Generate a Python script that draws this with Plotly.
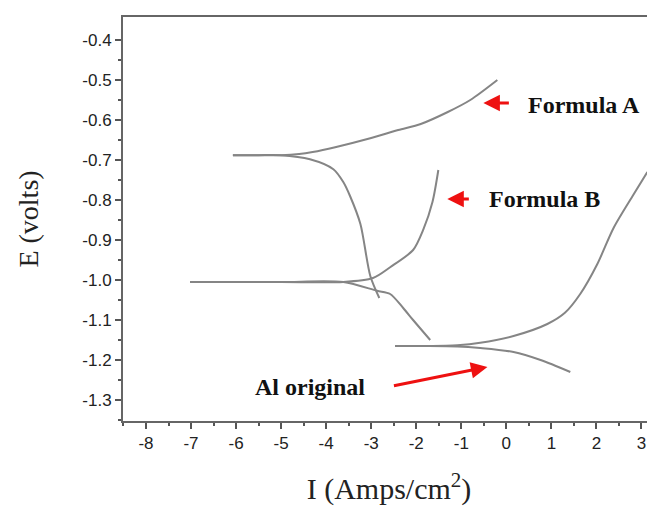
import plotly.graph_objects as go

# Formula A (anodic and cathodic branches)
a_anodic_I = [-6.07, -5.5, -5.0, -4.6, -4.3, -3.8, -3.0, -2.4, -1.9, -1.3, -0.8, -0.2]
a_anodic_E = [-0.688, -0.688, -0.688, -0.685, -0.680, -0.668, -0.645, -0.625, -0.610, -0.580, -0.550, -0.500]
a_cath_I = [-6.07, -5.5, -5.02, -4.36, -3.84, -3.62, -3.47, -3.24, -3.02, -2.82]
a_cath_E = [-0.688, -0.688, -0.688, -0.698, -0.723, -0.755, -0.790, -0.860, -0.990, -1.045]

# Formula B
b_anodic_I = [-7.02, -5.0, -3.62, -2.96, -2.58, -2.07, -1.84, -1.64, -1.51]
b_anodic_E = [-1.005, -1.005, -1.005, -0.995, -0.968, -0.925, -0.873, -0.805, -0.725]
b_cath_I = [-7.02, -5.0, -3.62, -2.87, -2.58, -2.29, -2.07, -1.69]
b_cath_E = [-1.005, -1.005, -1.005, -1.027, -1.035, -1.070, -1.100, -1.150]

# Al original
al_anodic_I = [-2.47, -1.8, -1.09, -0.58, 0.16, 0.91, 1.30, 1.64, 2.02, 2.38, 2.82, 3.13]
al_anodic_E = [-1.165, -1.165, -1.163, -1.157, -1.140, -1.110, -1.082, -1.035, -0.960, -0.870, -0.787, -0.730]
al_cath_I = [-2.47, -1.8, -1.09, -0.58, 0.16, 0.76, 1.42]
al_cath_E = [-1.165, -1.165, -1.166, -1.170, -1.180, -1.200, -1.230]

x_tick_vals = [-8, -7, -6, -5, -4, -3, -2, -1, 0, 1, 2, 3]
x_tick_labels = ["-8", "-7", "-6", "-5", "-4", "-3", "-2", "-1", "0", "1", "2", "3"]
y_tick_vals = [-0.4, -0.5, -0.6, -0.7, -0.8, -0.9, -1.0, -1.1, -1.2, -1.3]
y_tick_labels = ["-0.4", "-0.5", "-0.6", "-0.7", "-0.8", "-0.9", "-1.0", "-1.1", "-1.2", "-1.3"]

line_color = "#858585"
fig = go.Figure()
for xs, ys in [(a_anodic_I, a_anodic_E), (a_cath_I, a_cath_E),
               (b_anodic_I, b_anodic_E), (b_cath_I, b_cath_E),
               (al_anodic_I, al_anodic_E), (al_cath_I, al_cath_E)]:
    fig.add_trace(go.Scatter(x=xs, y=ys, mode="lines",
                             line=dict(color=line_color, width=2, shape="spline", smoothing=0.8),
                             showlegend=False, hoverinfo="skip"))

label_font = dict(family="Liberation Serif", size=24, color="#111111")
arrow = dict(showarrow=True, arrowhead=2, arrowsize=1.1, arrowwidth=3, arrowcolor="#ee1111", text="")
annotations = [
    dict(x=-0.51, y=-0.5575, xref="x", yref="y", ax=27, ay=0, **arrow),
    dict(x=1.73, y=-0.5625, xref="x", yref="y", text="<b>Formula A</b>", showarrow=False, font=label_font),
    dict(x=-1.31, y=-0.7975, xref="x", yref="y", ax=23, ay=0, **arrow),
    dict(x=0.84, y=-0.7975, xref="x", yref="y", text="<b>Formula B</b>", showarrow=False, font=label_font),
    dict(x=-0.42, y=-1.2175, xref="x", yref="y", ax=-95, ay=19, **arrow),
    dict(x=-4.36, y=-1.2675, xref="x", yref="y", text="<b>Al original</b>", showarrow=False, font=label_font),
]

axis_line = dict(showline=True, linecolor="#666666", linewidth=2)
fig.update_layout(
    width=647, height=501,
    margin=dict(l=115, r=0, t=9, b=88),
    paper_bgcolor="white", plot_bgcolor="white",
    annotations=annotations,
    xaxis=dict(range=[-8.51, 3.3], tickmode="array", tickvals=x_tick_vals, ticktext=x_tick_labels,
               ticks="outside", ticklen=6, tickwidth=1.5, tickcolor="#555555",
               minor=dict(ticks="outside", ticklen=3, tickwidth=1.5, tickcolor="#555555",
                          tickvals=[-8.5, -7.5, -6.5, -5.5, -4.5, -3.5, -2.5, -1.5, -0.5, 0.5, 1.5, 2.5]),
               showgrid=False, zeroline=False, mirror=True,
               tickfont=dict(family="Liberation Sans", size=17, color="#222222"),
               title=dict(text="I (Amps/cm<sup>2</sup>)", standoff=26,
                          font=dict(family="Liberation Serif", size=30, color="#222222")),
               **axis_line),
    yaxis=dict(range=[-1.3525, -0.3425], tickmode="array", tickvals=y_tick_vals, ticktext=y_tick_labels,
               ticks="outside", ticklen=6, tickwidth=1.5, tickcolor="#555555",
               minor=dict(ticks="outside", ticklen=3, tickwidth=1.5, tickcolor="#555555",
                          tickvals=[-0.45, -0.55, -0.65, -0.75, -0.85, -0.95, -1.05, -1.15, -1.25, -1.35]),
               showgrid=False, zeroline=False, mirror=False,
               tickfont=dict(family="Liberation Sans", size=17, color="#222222"),
               title=dict(text="E (volts)", standoff=36,
                          font=dict(family="Liberation Serif", size=28, color="#222222")),
               **axis_line),
)

fig.write_html("out.html")
